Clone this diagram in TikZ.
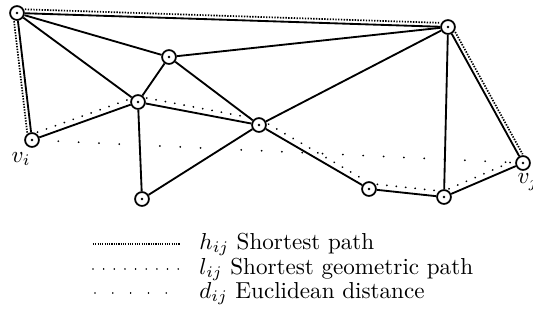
\documentclass[tikz,border=0pt]{standalone}
\usetikzlibrary{calc}
\newcommand\offseg[4]{\draw[#4] ($(#1)!3.4pt!(#2)!#3!90:(#2)$) -- ($(#2)!3.4pt!(#1)!#3!-90:(#1)$);}
\begin{document}
\begin{tikzpicture}[x=0.01521cm,y=-0.01521cm,
  vert/.style={circle,draw,line width=0.75pt,minimum size=6pt,inner sep=0pt,
    path picture={\fill (path picture bounding box.center) circle (0.6pt);}},
  edge/.style={line width=0.8pt},
  hpath/.style={line width=0.75pt,dash pattern=on 0.6pt off 0.6pt},
  lpath/.style={line width=0.85pt,line cap=round,dash pattern=on 0.01pt off 4.1pt},
  dpath/.style={line width=0.85pt,line cap=round,dash pattern=on 0.01pt off 8.8pt},
  lbl/.style={anchor=base west,inner sep=0pt}]
\useasboundingbox (0,0) rectangle (533,322);
% vertices
\node[vert] (A) at (17,13) {};
\node[vert] (B) at (448,27) {};
\node[vert] (C) at (169,57) {};
\node[vert] (D) at (138,102) {};
\node[vert] (E) at (259,125) {};
\node[vert] (vi) at (32,140) {};
\node[vert] (F) at (142,199) {};
\node[vert] (G) at (369,189) {};
\node[vert] (H) at (444,197) {};
\node[vert] (vj) at (523,163) {};
\node (li) at (21,159) {$v_i$};
\node (lj) at (528,182) {$v_j$};
% edges
\foreach \a/\b in {A/B,A/vi,A/C,A/D,C/D,C/B,C/E,D/E,D/vi,D/F,E/F,E/B,E/G,G/H,H/B,H/vj,B/vj}
  \draw[edge] (\a) -- (\b);
% shortest path h_ij
\offseg{vi}{A}{1.7pt}{hpath}
\offseg{A}{B}{1.7pt}{hpath}
\offseg{B}{vj}{1.7pt}{hpath}
% shortest geometric path l_ij
\offseg{vi}{D}{2.4pt}{lpath}
\offseg{D}{E}{2.4pt}{lpath}
\offseg{E}{G}{2.4pt}{lpath}
\offseg{G}{H}{2.4pt}{lpath}
\offseg{H}{vj}{2.4pt}{lpath}
% Euclidean distance
\draw[dpath,shorten <=8pt,shorten >=3pt] (vi) -- (vj);
% legend
\coordinate (h1) at (93,244); \coordinate (h2) at (180,244);
\coordinate (l1) at (93,269); \coordinate (l2) at (180,269);
\coordinate (d1) at (95,293); \coordinate (d2) at (180,293);
\draw[hpath,line width=0.6pt,dash pattern=on 0.5pt off 0.5pt] (h1) -- (h2);
\draw[lpath,line width=0.7pt,dash pattern=on 0.01pt off 4.6pt] (l1) -- (l2);
\draw[dpath,line width=0.7pt,dash pattern=on 0.01pt off 7.7pt] (d1) -- (d2);
\node[lbl] (t1) at (199,249) {$h_{ij}$ Shortest path};
\node[lbl] (t2) at (199,274) {$l_{ij}$ Shortest geometric path};
\node[lbl] (t3) at (199,298) {$d_{ij}$ Euclidean distance};
\end{tikzpicture}
\end{document}
